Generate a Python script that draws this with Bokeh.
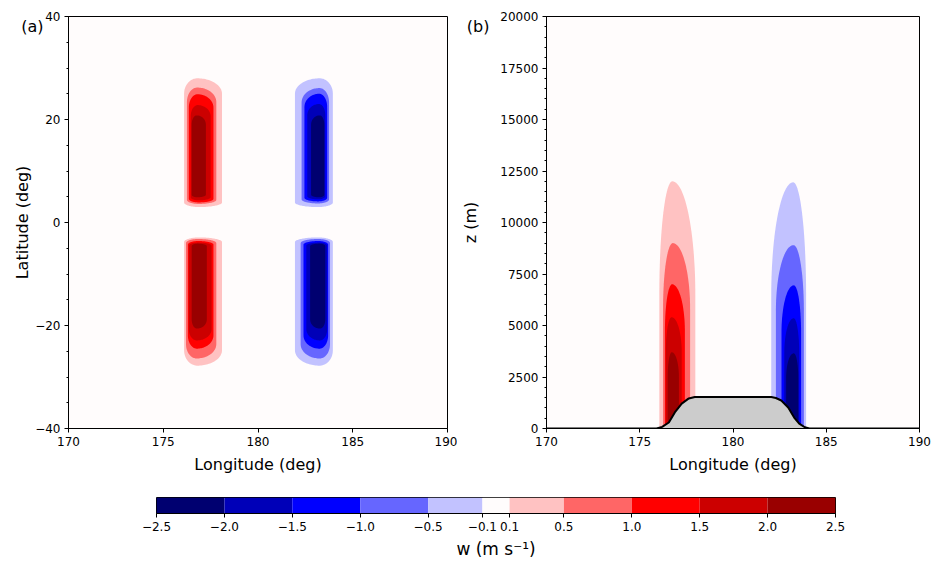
import numpy as np
from bokeh.plotting import figure
from bokeh.layouts import column, row
from bokeh.models import FixedTicker, LinearAxis, Range1d
from bokeh.embed import file_html
from bokeh.resources import INLINE

# ---------------- data ----------------
levels = [-2.5, -2.0, -1.5, -1.0, -0.5, -0.1, 0.1, 0.5, 1.0, 1.5, 2.0, 2.5]
level_labels = ["−2.5", "−2.0", "−1.5", "−1.0", "−0.5", "−0.1", "0.1", "0.5", "1.0", "1.5", "2.0", "2.5"]
band_colors = ["#000070", "#0000b8", "#0000ff", "#6666ff", "#c2c2ff", "#fffcfc",
               "#ffc2c2", "#ff6666", "#ff0000", "#cc0000", "#990000"]

pos_levels = [0.1, 0.5, 1.0, 1.5, 2.0]
neg_levels = [-0.1, -0.5, -1.0, -1.5, -2.0]

lon_ticks = [170, 175, 180, 185, 190]
lat_ticks = [-40, -20, 0, 20, 40]
lat_minor = list(range(-40, 41, 5))
lat_labels = ["−40", "−20", "0", "20", "40"]
z_ticks = list(range(0, 20001, 2500))
z_minor = list(range(0, 20001, 500))
panel_tags = ["(a)", "(b)"]

# Panel (a): contour band extents (lon west/east, lat south/north) per level
a_nr_west = [176.10, 176.25, 176.35, 176.45, 176.50]
a_nr_east = [178.10, 177.80, 177.65, 177.50, 177.25]
a_nr_south = [3.0, 3.6, 3.9, 4.3, 4.9]
a_nr_north = [28.0, 26.2, 24.9, 22.8, 20.8]

a_sr_west = [176.10, 176.20, 176.30, 176.35, 176.50]
a_sr_east = [178.10, 177.80, 177.65, 177.55, 177.30]
a_sr_north = [-2.9, -3.2, -3.6, -3.9, -4.1]
a_sr_south = [-27.8, -26.4, -24.5, -22.9, -20.6]

a_nb_west = [181.95, 182.30, 182.45, 182.60, 182.80]
a_nb_east = [183.95, 183.75, 183.65, 183.55, 183.50]
a_nb_south = [3.0, 3.7, 4.1, 4.5, 4.9]
a_nb_north = [28.0, 26.1, 25.0, 23.0, 20.8]

a_sb_west = [181.95, 182.25, 182.40, 182.55, 182.75]
a_sb_east = [183.95, 183.80, 183.70, 183.65, 183.55]
a_sb_north = [-2.9, -3.2, -3.6, -3.9, -4.1]
a_sb_south = [-27.8, -26.4, -24.5, -22.9, -20.6]

a_cap_outer = [3.0, 2.8, 2.6, 2.2, 1.8]
a_cap_inner = [0.9, 0.8, 0.7, 0.6, 0.5]

# Panel (b): vertical section band extents
b_red_west = [176.05, 176.25, 176.35, 176.40, 176.50]
b_red_east = [177.98, 177.70, 177.42, 177.25, 177.10]
b_red_top = [12000, 9000, 7000, 5400, 3700]
b_blue_west = [182.05, 182.30, 182.60, 182.75, 182.85]
b_blue_east = [183.92, 183.80, 183.65, 183.55, 183.50]
b_blue_top = [11950, 8900, 6950, 5350, 3650]
b_cap = [5500, 3200, 2300, 1700, 1200]

terrain_lon = [170.0, 175.9, 176.2, 176.56, 176.88, 177.25, 177.63, 177.95,
               182.05, 182.3, 182.59, 182.96, 183.28, 183.55, 183.85, 184.1, 190.0]
terrain_z = [0, 0, 80, 290, 780, 1210, 1460, 1530,
             1530, 1480, 1360, 1020, 530, 240, 60, 0, 0]

FONT = "DejaVu Sans"


def band_color(level):
    i = levels.index(level)
    return band_colors[i] if level > 0 else band_colors[i - 1]


def capsule(x0, x1, y0, y1, cap_top, cap_bot, frac_top, frac_bot, n=30):
    t = np.linspace(0, np.pi / 2, n)
    pt = x0 + frac_top * (x1 - x0)
    pb = x0 + frac_bot * (x1 - x0)
    xs, ys = [], []
    xs += list(pb - (pb - x0) * np.sin(t)); ys += list(y0 + cap_bot * (1 - np.cos(t)))
    xs += list(x0 + (pt - x0) * (1 - np.cos(t))); ys += list(y1 - cap_top + cap_top * np.sin(t))
    xs += list(pt + (x1 - pt) * np.sin(t)); ys += list(y1 - cap_top * (1 - np.cos(t)))
    xs += list(x1 - (x1 - pb) * (1 - np.cos(t))); ys += list(y0 + cap_bot - cap_bot * np.sin(t))
    return xs, ys


def style_axis(ax):
    ax.axis_line_color = "black"
    ax.major_tick_line_color = "black"
    ax.minor_tick_line_color = "black"
    ax.major_tick_in = 0
    ax.major_tick_out = 4
    ax.minor_tick_in = 0
    ax.minor_tick_out = 2
    ax.major_label_text_font = FONT
    ax.major_label_text_font_size = "12px"
    ax.major_label_text_color = "black"
    ax.axis_label_text_font = FONT
    ax.axis_label_text_font_size = "16px"
    ax.axis_label_text_font_style = "normal"
    ax.axis_label_text_color = "black"
    ax.major_label_standoff = 4


def style(p, xlab):
    p.background_fill_color = "#fffcfc"
    p.border_fill_color = "white"
    p.outline_line_color = "black"
    p.outline_line_alpha = 1
    p.outline_line_width = 1
    p.grid.visible = False
    for ax in p.axis:
        style_axis(ax)
    p.xaxis.axis_label = xlab
    p.xaxis.ticker = FixedTicker(ticks=lon_ticks)
    p.xaxis.axis_label_standoff = 6


def tag_axis(p, tag_y, tag, ylab, tag_standoff, label_standoff):
    # outer left axis that carries the panel tag and the y-axis title
    ax = LinearAxis(ticker=FixedTicker(ticks=[tag_y]), major_label_overrides={tag_y: tag})
    style_axis(ax)
    ax.axis_line_color = None
    ax.major_tick_line_color = None
    ax.minor_tick_line_color = None
    ax.major_tick_out = 0
    ax.minor_tick_out = 0
    ax.major_label_text_font_size = "16px"
    ax.major_label_orientation = "horizontal"
    ax.major_label_standoff = tag_standoff
    ax.axis_label = ylab
    ax.axis_label_standoff = label_standoff
    p.add_layout(ax, "left")


# ---------------- panel (a) ----------------
pa = figure(width=457, height=483, output_backend="svg", toolbar_location=None,
            x_range=Range1d(170, 190), y_range=Range1d(-40, 40),
            min_border_left=68, min_border_right=10, min_border_top=16, min_border_bottom=55)
style(pa, "Longitude (deg)")
pa.yaxis.ticker = FixedTicker(ticks=lat_ticks, minor_ticks=lat_minor)
pa.yaxis.major_label_overrides = {t: s for t, s in zip(lat_ticks, lat_labels)}
tag_axis(pa, 38.06, panel_tags[0], "Latitude (deg)", -11, -14)

xs_all, ys_all, cols = [], [], []
blobs = [
    (pos_levels, a_nr_west, a_nr_east, a_nr_south, a_nr_north, a_cap_outer, a_cap_inner, 0.35, 0.4),
    (pos_levels, a_sr_west, a_sr_east, a_sr_south, a_sr_north, a_cap_inner, a_cap_outer, 0.4, 0.35),
    (neg_levels, a_nb_west, a_nb_east, a_nb_south, a_nb_north, a_cap_outer, a_cap_inner, 0.65, 0.6),
    (neg_levels, a_sb_west, a_sb_east, a_sb_south, a_sb_north, a_cap_inner, a_cap_outer, 0.6, 0.65),
]
for lv, w, e, s, n_, ct, cb, ft, fb in blobs:
    for i in range(len(lv)):
        x, y = capsule(w[i], e[i], s[i], n_[i], ct[i], cb[i], ft, fb)
        xs_all.append(x); ys_all.append(y); cols.append(band_color(lv[i]))
pa.patches(xs_all, ys_all, fill_color=cols, line_color=None)

# ---------------- panel (b) ----------------
pb = figure(width=475, height=483, output_backend="svg", toolbar_location=None,
            x_range=Range1d(170, 190), y_range=Range1d(0, 20000),
            min_border_left=87, min_border_right=13, min_border_top=16, min_border_bottom=55)
style(pb, "Longitude (deg)")
pb.yaxis.ticker = FixedTicker(ticks=z_ticks, minor_ticks=z_minor)
tag_axis(pb, 19515, panel_tags[1], "z (m)", 8, -16)

xs_b, ys_b, cols_b = [], [], []
for i in range(len(pos_levels)):
    x, y = capsule(b_red_west[i], b_red_east[i], 0, b_red_top[i], b_cap[i], 0, 0.36, 0.5)
    xs_b.append(x); ys_b.append(y); cols_b.append(band_color(pos_levels[i]))
for i in range(len(neg_levels)):
    x, y = capsule(b_blue_west[i], b_blue_east[i], 0, b_blue_top[i], b_cap[i], 0, 0.63, 0.5)
    xs_b.append(x); ys_b.append(y); cols_b.append(band_color(neg_levels[i]))
pb.patches(xs_b, ys_b, fill_color=cols_b, line_color=None)
pb.varea(x=terrain_lon, y1=[0] * len(terrain_z), y2=terrain_z, fill_color="#cccccc")
pb.line(terrain_lon, terrain_z, line_color="black", line_width=2)

# ---------------- colour bar ----------------
pc = figure(width=932, height=78, output_backend="svg", toolbar_location=None,
            x_range=Range1d(levels[0], levels[-1]), y_range=Range1d(0, 1),
            min_border_left=156, min_border_right=97, min_border_top=14, min_border_bottom=46)
pc.quad(left=levels[:-1], right=levels[1:], bottom=0, top=1, fill_color=band_colors, line_color=None)
pc.grid.visible = False
pc.yaxis.visible = False
pc.outline_line_color = "black"
pc.outline_line_alpha = 1
pc.border_fill_color = "white"
ax = pc.xaxis[0]
style_axis(ax)
ax.ticker = FixedTicker(ticks=levels)
ax.major_label_overrides = {t: s for t, s in zip(levels, level_labels)}
ax.minor_tick_line_color = None
ax.axis_label = "w (m s⁻¹)"
ax.axis_label_text_font_size = "17px"
ax.axis_label_standoff = 5

layout = column(row(pa, pb), pc)
open("out.html", "w").write(file_html(layout, INLINE))
